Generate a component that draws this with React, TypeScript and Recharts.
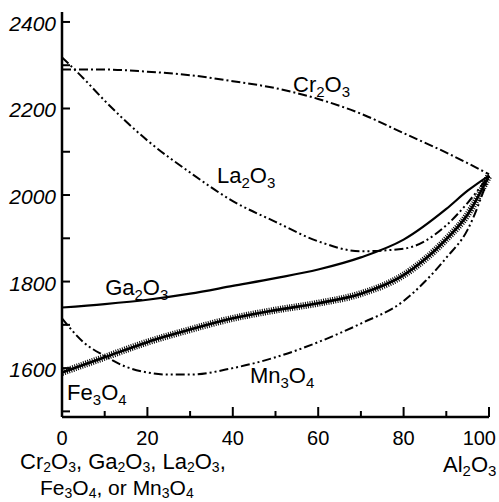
import React from 'react';
import { LineChart, Line, XAxis, YAxis, ReferenceDot } from 'recharts';

// mol % Al2O3 (x) vs temperature °C (y)
const cr2o3X = [0, 10, 20, 30, 40, 50, 60, 70, 80, 90, 100];
const cr2o3Y = [2290, 2290, 2285, 2277, 2263, 2247, 2222, 2188, 2143, 2098, 2048];

const la2o3X = [0, 5, 10, 20, 30, 40, 50, 60, 70, 80, 90, 95, 100];
const la2o3Y = [2318, 2270, 2218, 2126, 2052, 1986, 1938, 1893, 1870, 1876, 1930, 1982, 2045];

const ga2o3X = [0, 10, 20, 30, 40, 50, 60, 70, 80, 90, 95, 100];
const ga2o3Y = [1740, 1748, 1758, 1772, 1790, 1808, 1828, 1856, 1897, 1968, 2010, 2045];

const fe3o4X = [0, 10, 20, 30, 40, 50, 60, 70, 80, 90, 95, 100];
const fe3o4Y = [1590, 1625, 1660, 1689, 1715, 1734, 1750, 1772, 1815, 1898, 1955, 2045];

const mn3o4X = [0, 5, 10, 15, 20, 25, 30, 40, 50, 60, 70, 80, 85, 90, 95, 100];
const mn3o4Y = [1715, 1660, 1628, 1603, 1590, 1585, 1585, 1600, 1625, 1660, 1703, 1755, 1800, 1855, 1920, 2045];

const xTicks = [0, 10, 20, 30, 40, 50, 60, 70, 80, 90, 100];
const xLabeled = [0, 20, 40, 60, 80, 100];
const yTicks = [1500, 1600, 1700, 1800, 1900, 2000, 2100, 2200, 2300, 2400];
const yLabeled = [1600, 1800, 2000, 2200, 2400];

// label texts with anchor positions in data units
const curveLabels = [
  { text: 'Cr2O3', x: 54.1, y: 2238 },
  { text: 'La2O3', x: 36.3, y: 2028 },
  { text: 'Ga2O3', x: 10.1, y: 1769 },
  { text: 'Fe3O4', x: 1.2, y: 1526 },
  { text: 'Mn3O4', x: 44.0, y: 1566 },
];
const bottomLine1 = 'Cr2O3, Ga2O3, La2O3,';
const bottomLine2 = 'Fe3O4, or Mn3O4';
const rightLabel = 'Al2O3';

const toPts = (xs: number[], ys: number[]) => xs.map((x, i) => ({ x, y: ys[i] }));

const FONT = '"Liberation Sans", Arial, sans-serif';

function formula(s: string, big: number, small: number, shift: number) {
  const tokens = s.match(/[0-9]+|[^0-9]+/g) || [];
  let sub = false;
  return tokens.map((t, i) => {
    const isNum = /^[0-9]+$/.test(t);
    const dy = isNum ? (sub ? 0 : shift) : sub ? -shift : 0;
    sub = isNum;
    return (
      <tspan key={i} dy={dy} fontSize={isNum ? small : big}>
        {t}
      </tspan>
    );
  });
}

const FormulaLabel = (props: any) => {
  const vb = props.viewBox || {};
  const x = (vb.x || 0) + (vb.width || 0) / 2;
  const y = (vb.y || 0) + (vb.height || 0) / 2;
  return (
    <text x={x} y={y} fontFamily={FONT} fontSize={22} fill="#000" textAnchor="start">
      {formula(props.text, 22, 15, 5)}
    </text>
  );
};

const BottomLabels = (props: any) => {
  const vb = props.viewBox || { x: 62, y: 417, width: 427, height: 85 };
  return (
    <g>
      <text x={vb.x - 42} y={vb.y + 52} fontFamily={FONT} fontSize={22} fill="#000">
        {formula(bottomLine1, 22, 14, 3)}
      </text>
      <text x={vb.x - 22} y={vb.y + 78} fontFamily={FONT} fontSize={21} fill="#000">
        {formula(bottomLine2, 21, 14, 3)}
      </text>
      <text x={vb.x + vb.width - 46} y={vb.y + 55} fontFamily={FONT} fontSize={22} fill="#000">
        {formula(rightLabel, 22, 15, 4)}
      </text>
    </g>
  );
};

const LeftTick = (props: any) => {
  const { x, y, payload } = props;
  const v = payload.value;
  return (
    <g>
      <line x1={x} x2={x + 8} y1={y} y2={y} stroke="#000" strokeWidth={2} />
      {yLabeled.includes(v) && (
        <text x={x - 6} y={y + 9} textAnchor="end" fontFamily={FONT} fontStyle="italic" fontSize={21} fill="#000">
          {v}
        </text>
      )}
    </g>
  );
};

const RightTick = (props: any) => {
  const { x, y } = props;
  return <line x1={x} x2={x - 7} y1={y} y2={y} stroke="#000" strokeWidth={2} />;
};

const BottomTick = (props: any) => {
  const { x, y, payload } = props;
  const v = payload.value;
  const major = xLabeled.includes(v);
  const last = v === 100;
  return (
    <g>
      <line x1={x} x2={x} y1={y} y2={y - (major ? 10 : 6)} stroke="#000" strokeWidth={2} />
      {major && (
        <text
          x={last ? x + 7 : x}
          y={y + 28}
          textAnchor={last ? 'end' : 'middle'}
          fontFamily={FONT}
          fontSize={20}
          fill="#000"
        >
          {v}
        </text>
      )}
    </g>
  );
};

export default function App() {
  return (
    <div style={{ position: 'absolute', left: 0, top: 0, width: 499, height: 502, background: '#fff' }}>
      <LineChart width={499} height={502} margin={{ top: 12, right: 10, bottom: 0, left: 0 }}>
        <XAxis
          xAxisId="b"
          type="number"
          dataKey="x"
          domain={[0, 100]}
          ticks={xTicks}
          interval={0}
          height={85}
          tickSize={0}
          tickMargin={0}
          tickLine={false}
          tick={<BottomTick />}
          axisLine={{ stroke: '#000', strokeWidth: 2.5 }}
          label={<BottomLabels />}
        />
        <XAxis
          xAxisId="t"
          orientation="top"
          type="number"
          dataKey="x"
          domain={[0, 100]}
          height={0}
          tick={false}
          tickLine={false}
          axisLine={{ stroke: '#000', strokeWidth: 2.5 }}
        />
        <YAxis
          yAxisId="l"
          type="number"
          domain={[1487, 2423]}
          ticks={yTicks}
          interval={0}
          width={62}
          tickSize={0}
          tickMargin={0}
          tickLine={false}
          tick={<LeftTick />}
          axisLine={{ stroke: '#000', strokeWidth: 2.5 }}
        />
        <YAxis
          yAxisId="r"
          orientation="right"
          type="number"
          domain={[1487, 2423]}
          ticks={yTicks}
          interval={0}
          width={0}
          tickSize={0}
          tickMargin={0}
          tickLine={false}
          tick={<RightTick />}
          axisLine={{ stroke: '#000', strokeWidth: 2.5 }}
        />
        <Line
          xAxisId="b"
          yAxisId="l"
          data={toPts(cr2o3X, cr2o3Y)}
          dataKey="y"
          type="monotone"
          stroke="#000"
          strokeWidth={2}
          strokeDasharray="9 3 2 3"
          dot={false}
          isAnimationActive={false}
        />
        <Line
          xAxisId="b"
          yAxisId="l"
          data={toPts(la2o3X, la2o3Y)}
          dataKey="y"
          type="monotone"
          stroke="#000"
          strokeWidth={2}
          strokeDasharray="9 3 2 3 2 3"
          dot={false}
          isAnimationActive={false}
        />
        <Line
          xAxisId="b"
          yAxisId="l"
          data={toPts(ga2o3X, ga2o3Y)}
          dataKey="y"
          type="monotone"
          stroke="#000"
          strokeWidth={2.2}
          dot={false}
          isAnimationActive={false}
        />
        <Line
          xAxisId="b"
          yAxisId="l"
          data={toPts(fe3o4X, fe3o4Y)}
          dataKey="y"
          type="monotone"
          stroke="#000"
          strokeWidth={2.6}
          dot={false}
          isAnimationActive={false}
        />
        <Line
          xAxisId="b"
          yAxisId="l"
          data={toPts(fe3o4X, fe3o4Y)}
          dataKey="y"
          type="monotone"
          stroke="#000"
          strokeWidth={7}
          strokeDasharray="1 1.3"
          dot={false}
          isAnimationActive={false}
        />
        <Line
          xAxisId="b"
          yAxisId="l"
          data={toPts(mn3o4X, mn3o4Y)}
          dataKey="y"
          type="monotone"
          stroke="#000"
          strokeWidth={2}
          strokeDasharray="9 3 2 3 2 3"
          dot={false}
          isAnimationActive={false}
        />
        {curveLabels.map((c) => (
          <ReferenceDot
            key={c.text}
            xAxisId="b"
            yAxisId="l"
            x={c.x}
            y={c.y}
            r={1}
            fill="none"
            stroke="none"
            label={<FormulaLabel text={c.text} />}
          />
        ))}
      </LineChart>
    </div>
  );
}
